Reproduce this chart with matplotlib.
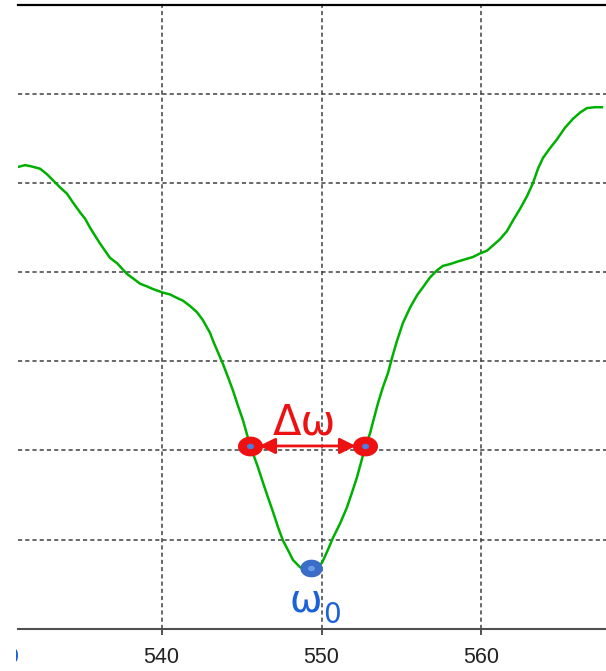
import matplotlib
matplotlib.use("Agg")
import matplotlib.pyplot as plt
import numpy as np
from matplotlib.path import Path
from matplotlib.transforms import Bbox, IdentityTransform, TransformedBbox

# Spectrum trace (wavelength, signal in grid units)
wavelength = [531.03, 531.47, 531.78, 532.41, 532.83, 533.22, 533.66, 534.09,
              534.47, 534.91, 535.22, 535.53, 535.84, 536.16, 536.47, 536.78,
              537.22, 537.84, 538.22, 538.66, 539.09, 539.47, 540.09, 540.53,
              540.97, 541.34, 541.78, 542.22, 542.59, 543.03, 543.22, 543.53,
              543.84, 544.16, 544.47, 544.78, 545.09, 545.53, 546.03, 546.34,
              546.66, 546.97, 547.28, 547.59, 547.91, 548.22, 548.66, 549.09,
              549.34, 549.72, 550.03, 550.34, 550.72, 551.16, 551.59, 551.91,
              552.22, 552.72, 553.03, 553.22, 553.53, 553.84, 554.16, 554.41,
              554.72, 555.09, 555.53, 555.97, 556.34, 556.78, 557.22, 557.59,
              558.03, 558.53, 559.09, 559.47, 559.91, 560.34, 560.72, 561.16,
              561.59, 561.97, 562.41, 562.84, 563.22, 563.53, 563.84, 564.28,
              564.72, 565.22, 565.72, 566.16, 566.59, 567.09, 567.53]
signal = [5.18, 5.20, 5.19, 5.16, 5.10, 5.03, 4.95, 4.88,
          4.78, 4.67, 4.60, 4.50, 4.41, 4.32, 4.24, 4.16,
          4.10, 3.98, 3.93, 3.87, 3.84, 3.81, 3.77, 3.75,
          3.71, 3.68, 3.62, 3.55, 3.46, 3.32, 3.23, 3.10,
          2.97, 2.82, 2.67, 2.50, 2.34, 2.06, 1.81, 1.64,
          1.47, 1.31, 1.14, 0.99, 0.88, 0.77, 0.69, 0.66,
          0.66, 0.69, 0.74, 0.86, 1.02, 1.18, 1.36, 1.53,
          1.70, 2.03, 2.19, 2.32, 2.53, 2.71, 2.87, 3.04,
          3.23, 3.43, 3.60, 3.74, 3.83, 3.94, 4.02, 4.07,
          4.09, 4.12, 4.15, 4.17, 4.21, 4.24, 4.30, 4.37,
          4.46, 4.58, 4.71, 4.85, 5.00, 5.16, 5.28, 5.39,
          5.49, 5.62, 5.72, 5.79, 5.84, 5.85, 5.85]

# Resonance centre and the two half-level crossings
w0 = (549.34, 0.68)
half_left = (545.50, 2.05)
half_right = (552.75, 2.05)

xticks = [540, 550, 560]
yticks = [1, 2, 3, 4, 5, 6]
xlim = (531.03, 568.97)
ylim = (0, 7)

GREEN = "#00b000"
RED = "#ee1111"
BLUE = "#3a6cc8"
LABEL_BLUE = "#1a62d8"
TICK_FONT = ["Liberation Sans", "DejaVu Sans"]

plt.rcParams["lines.scale_dashes"] = False

fig = plt.figure(figsize=(6.06, 6.71), dpi=100)
ax = fig.add_axes([18 / 606, 42.3 / 671, 607 / 606, 624 / 671])

ax.plot(wavelength, signal, color=GREEN, lw=1.8, zorder=3,
        solid_joinstyle="round")

# slightly flattened round marker
t = np.linspace(0, 2 * np.pi, 60)
oval = Path(np.column_stack([np.cos(t), 0.78 * np.sin(t)]))

for px, py in (half_left, half_right):
    ax.plot(px, py, marker=oval, ms=17, color=RED, mec=RED, zorder=5)
    ax.plot(px, py, marker=oval, ms=5, color="#4a80e6", mec="none", zorder=6)

ax.annotate("", xy=half_right, xytext=half_left,
            arrowprops=dict(arrowstyle="<|-|>", color=RED, lw=2.0,
                            mutation_scale=24, shrinkA=7, shrinkB=7),
            zorder=4)
mid_x = (half_left[0] + half_right[0]) / 2
ax.annotate("Δω", xy=(mid_x, half_left[1]), xytext=(-2.5, 8),
            textcoords="offset points", ha="center", va="baseline",
            fontsize=30, color=RED, zorder=6)

ax.plot(*w0, marker=oval, ms=15, color=BLUE, mec=BLUE, zorder=5)
ax.plot(*w0, marker=oval, ms=5, color="#6a9be8", mec="none", zorder=6)
ax.annotate("ω", xy=w0, xytext=(-3.6, -31.5), textcoords="offset points",
            ha="center", va="baseline", fontsize=28, color=LABEL_BLUE)
ax.annotate("0", xy=w0, xytext=(15.5, -39.5), textcoords="offset points",
            ha="center", va="baseline", fontsize=20, color=LABEL_BLUE)

ax.set_xlim(*xlim)
ax.set_ylim(*ylim)
ax.set_xticks(xticks)
ax.set_yticks(yticks)
ax.set_xticklabels([str(v) for v in xticks], family=TICK_FONT,
                   fontsize=15.5, color="#222222")
ax.tick_params(axis="x", direction="out", length=4.5, width=1.2,
               color="#333333", pad=8.5)
ax.tick_params(axis="y", length=0, labelleft=False)

# 530 label sits left of the visible range; only its right edge shows
lbl530 = ax.text(530, -0.029, "530", transform=ax.get_xaxis_transform(),
                 ha="center", va="top", family=TICK_FONT, fontsize=15.5,
                 color="#1a62d8")
lbl530.set_clip_box(TransformedBbox(Bbox([[16, 0], [606, 671]]),
                                    IdentityTransform()))
lbl530.set_clip_on(True)

ax.grid(True, color="#404040", lw=1.1, linestyle=(0, (3, 2.2)))
ax.set_axisbelow(True)

for side in ("left", "right"):
    ax.spines[side].set_visible(False)
ax.spines["top"].set_color("black")
ax.spines["top"].set_linewidth(1.6)
ax.spines["bottom"].set_color("#505050")
ax.spines["bottom"].set_linewidth(1.5)

fig.savefig("out.png", dpi=100)
